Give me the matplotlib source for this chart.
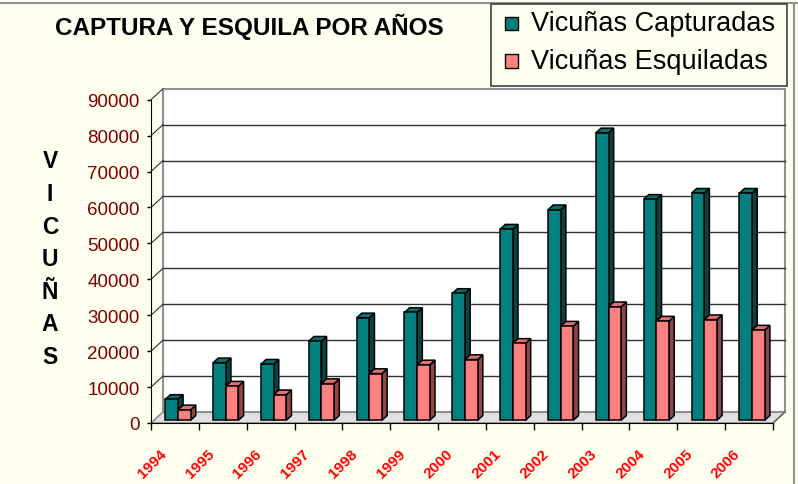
import numpy as np
import matplotlib
matplotlib.use("Agg")
import matplotlib.pyplot as plt
from matplotlib.patches import Polygon, Rectangle
import matplotlib.transforms as mtransforms
from matplotlib.lines import Line2D

# ---------------- data ----------------
years = ["1994", "1995", "1996", "1997", "1998", "1999", "2000",
         "2001", "2002", "2003", "2004", "2005", "2006"]
capturadas = [5800, 16000, 15600, 22000, 28500, 30000, 35300,
              53200, 58600, 80000, 61500, 63200, 63200]
esquiladas = [2900, 9500, 7100, 10200, 13000, 15400, 16900,
              21400, 26200, 31600, 27600, 28000, 25100]
series_names = ["Vicuñas Capturadas", "Vicuñas Esquiladas"]
y_ticks = list(range(0, 90001, 10000))
title = "CAPTURA Y ESQUILA POR AÑOS"
ylabel_letters = ["V", "I", "C", "U", "Ñ", "A", "S"]

# ---------------- style ----------------
W, H = 798, 485
BG = "#FFFFF0"
face_cols = ["#008080", "#FF8080"]
side_cols = ["#004848", "#8A4848"]
top_cols = ["#007070", "#E07070"]
plt.rcParams["font.family"] = ["Liberation Sans", "DejaVu Sans"]

def fx(x):
    return x / W

def fy(y):
    return 1 - y / H

fig = plt.figure(figsize=(W / 100, H / 100), dpi=100, facecolor=BG)

# front plane of the 3D box
x_left, x_right, y_bot, y_top = 151, 773, 424, 100.7
ax = fig.add_axes([fx(x_left), fy(y_bot), (x_right - x_left) / W, (y_bot - y_top) / H])
ax.set_facecolor("none")
n = len(years)
ymax = 90000
ax.set_xlim(0, n)
ax.set_ylim(0, ymax)

# depth offset (pixels -> data units)
px_per_cat = (x_right - x_left) / n
px_per_val = (y_bot - y_top) / ymax
DX = 12 / px_per_cat
DY = 11 / px_per_val

# floor
floor = Polygon([(0, 0), (n, 0), (n + DX, DY), (DX, DY)], closed=True,
                facecolor="#E0E0E0", edgecolor="#808080", lw=1, clip_on=False, zorder=1)
ax.add_patch(floor)
# back wall
wall = Rectangle((DX, DY), n, ymax, facecolor="white", edgecolor="#909090",
                 lw=1.5, clip_on=False, zorder=1)
ax.add_patch(wall)
# gridlines on back wall + left wall diagonals
for v in y_ticks[1:]:
    if v < ymax:
        ax.plot([DX, n + DX], [v + DY, v + DY], color="#303030", lw=1, clip_on=False, zorder=2)
    ax.plot([0, DX], [v, v + DY], color="#303030", lw=0.8, clip_on=False, zorder=2)
# right floor edge
ax.plot([n, n + DX], [0, DY], color="#606060", lw=1, clip_on=False, zorder=2)

# bars
w = 0.265
d0, d1 = 0.25, 0.68
for i in range(n):
    for s, vals in enumerate([capturadas, esquiladas]):
        v = vals[i]
        x0 = i + 0.5 - w + s * w + d0 * DX
        yb = d0 * DY
        ddx = (d1 - d0) * DX
        ddy = (d1 - d0) * DY
        z = 3 + i * 0.01 + s * 0.001
        front = Polygon([(x0, yb), (x0 + w, yb), (x0 + w, yb + v), (x0, yb + v)],
                        closed=True, facecolor=face_cols[s], edgecolor="black", lw=1.1,
                        clip_on=False, zorder=z)
        side = Polygon([(x0 + w, yb), (x0 + w + ddx, yb + ddy), (x0 + w + ddx, yb + v + ddy),
                        (x0 + w, yb + v)], closed=True, facecolor=side_cols[s],
                       edgecolor="black", lw=1.1, clip_on=False, zorder=z)
        top = Polygon([(x0, yb + v), (x0 + w, yb + v), (x0 + w + ddx, yb + v + ddy),
                       (x0 + ddx, yb + v + ddy)], closed=True, facecolor=top_cols[s],
                      edgecolor="black", lw=1.1, clip_on=False, zorder=z)
        ax.add_patch(side)
        ax.add_patch(top)
        ax.add_patch(front)

# axes
for sp in ["top", "right"]:
    ax.spines[sp].set_visible(False)
ax.spines["left"].set_color("black")
ax.spines["bottom"].set_color("black")
ax.spines["left"].set_zorder(5)
ax.spines["bottom"].set_zorder(5)
ax.set_yticks(y_ticks)
ax.set_yticklabels([str(v) for v in y_ticks], color="#800000", fontsize=13.5)
ax.tick_params(axis="y", length=3, width=1, pad=5, color="black")
ax.set_xticks(np.arange(0, n + 1))
ax.set_xticklabels([])
ax.tick_params(axis="x", which="major", length=5, width=1, color="black")
ax.set_xticks(np.arange(n) + 0.5, minor=True)
ax.set_xticklabels(years, minor=True, rotation=45, ha="right", va="center",
                   rotation_mode="anchor", color="#FF0000", fontsize=11, fontweight="bold")
ax.tick_params(axis="x", which="minor", length=0, pad=20.5)
offset = mtransforms.ScaledTranslation(-11 / 100, 0, fig.dpi_scale_trans)
for lab in ax.xaxis.get_minorticklabels():
    lab.set_transform(lab.get_transform() + offset)

# title
fig.text(fx(55), fy(27), title, fontsize=17.5, fontweight="bold", ha="left", va="center",
         color="black")

# vertical y label letters
for k, ch in enumerate(ylabel_letters):
    fig.text(fx(50), fy(162 + 32.6 * k), ch, fontsize=16.5, ha="center", va="center",
             color="black", fontweight="bold")

# legend (manual)
fig.patches.append(Rectangle((fx(491), fy(87)), (787 - 491) / W, (87 - 5) / H,
                             transform=fig.transFigure, facecolor=BG, edgecolor="#404040",
                             lw=1.2, zorder=10))
for k, name in enumerate(series_names):
    yc = 24 + 38 * k
    fig.patches.append(Rectangle((fx(505), fy(yc + 6.5)), 13 / W, 13 / H,
                                 transform=fig.transFigure, facecolor=face_cols[k],
                                 edgecolor="black", lw=1, zorder=11))
    fig.text(fx(531), fy(yc), name, fontsize=19.5, ha="left", va="center", color="black",
             zorder=12)

# figure borders
fig.add_artist(Line2D([0, 1], [fy(4), fy(4)], transform=fig.transFigure, color="#909090", lw=1.5))
fig.add_artist(Line2D([fx(794), fx(794)], [0, fy(4)], transform=fig.transFigure, color="#909090", lw=1.5))

fig.savefig("out.png", dpi=100, facecolor=BG)
